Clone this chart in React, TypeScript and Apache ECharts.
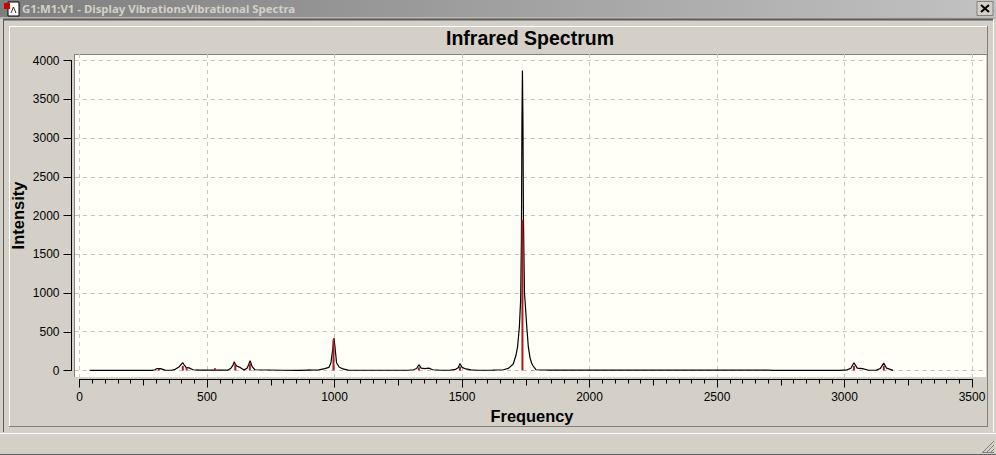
import React, { useEffect, useRef } from "react";
import * as echarts from "echarts";

const WINDOW_TITLE = "G1:M1:V1 - Display VibrationsVibrational Spectra";
const CHART_TITLE = "Infrared Spectrum";
const X_NAME = "Frequency";
const Y_NAME = "Intensity";

const spectrumFreq = [40, 200, 285, 296, 304, 318, 335, 362, 375, 390, 398, 405, 412, 418, 433, 445, 472, 540, 582, 594, 602, 607, 612, 618, 630, 645, 657, 664, 669, 674, 677, 688, 800, 860, 939, 962, 978, 986, 994, 998, 1002, 1008, 1018, 1033, 1053, 1150, 1290, 1310, 1322, 1331, 1340, 1355, 1370, 1385, 1420, 1450, 1475, 1485, 1492, 1500, 1515, 1535, 1560, 1620, 1662, 1682, 1701, 1712, 1718, 1725, 1730, 1733, 1735, 1737, 1739, 1741, 1745, 1747, 1754, 1760, 1767, 1773, 1779, 1790, 1850, 2100, 2700, 2720, 2980, 3010, 3025, 3037, 3050, 3070, 3095, 3125, 3140, 3154, 3165, 3190];
const spectrumIntensity = [1, 1, 2, 10, 25, 25, 5, 3, 15, 45, 75, 100, 65, 40, 30, 10, 5, 4, 5, 30, 70, 113, 75, 55, 40, 8, 30, 80, 127, 80, 50, 10, 3, 1, 8, 25, 40, 100, 300, 420, 300, 100, 45, 20, 5, 3, 3, 10, 25, 75, 30, 25, 30, 10, 3, 3, 15, 35, 90, 40, 20, 8, 3, 5, 10, 28, 84, 200, 307, 565, 910, 1680, 3200, 3870, 3200, 1950, 1000, 910, 565, 307, 160, 97, 58, 10, 6, 4, 4, 2, 2, 8, 30, 100, 30, 25, 3, 5, 25, 95, 30, 2];

const stickFreq = [312, 405, 420, 462, 531, 611, 668, 901, 996, 1331, 1492, 1737, 1777, 1848, 3037, 3154];
const stickIntensity = [20, 60, 40, 12, 30, 80, 90, 15, 400, 40, 50, 1940, 6, 6, 60, 60];

const xMajorTicks = [0, 500, 1000, 1500, 2000, 2500, 3000, 3500];
const yMajorTicks = [0, 500, 1000, 1500, 2000, 2500, 3000, 3500, 4000];

const FONT = "'Liberation Sans', Arial, sans-serif";
const PANEL = "#d4d0c8";
const plainNumber = (v: number) => String(v);

function hLine(x1: number, x2: number, y: number, stroke: string, lineWidth = 1) {
  return { type: "line", silent: true, shape: { x1, y1: y, x2, y2: y }, style: { stroke, lineWidth } };
}
function vLine(x: number, y1: number, y2: number, stroke: string, lineWidth = 1) {
  return { type: "line", silent: true, shape: { x1: x, y1, x2: x, y2 }, style: { stroke, lineWidth } };
}

export default function App() {
  const ref = useRef<HTMLDivElement>(null);
  useEffect(() => {
    document.body.style.margin = "0";
    const chart = echarts.init(ref.current!, undefined, { renderer: "svg" });
    const option: any = {
      animation: false,
      backgroundColor: PANEL,
      textStyle: { fontFamily: FONT },
      title: {
        text: CHART_TITLE,
        left: 525,
        top: 23,
        textAlign: "center",
        textStyle: { fontFamily: FONT, fontSize: 19.5, fontWeight: "bold", color: "#000" },
      },
      grid: [
        { left: 79.5, top: 60.5, width: 892.5, height: 310, outerBoundsMode: "none" },
        { left: 75, top: 54, width: 911, height: 323, show: true, backgroundColor: "#fffff8", borderWidth: 0, outerBoundsMode: "none" },
      ],
      xAxis: [
        {
          type: "value", gridIndex: 0, position: "bottom", offset: 9, min: 0, max: 3500, interval: 500,
          axisLine: { onZero: false, lineStyle: { color: "#000" } },
          axisTick: { length: 8, lineStyle: { color: "#000" } },
          minorTick: { show: true, splitNumber: 10, length: 4, lineStyle: { color: "#000" } },
          axisLabel: { fontFamily: FONT, fontSize: 12, color: "#000", margin: 11, showMaxLabel: true, showMinLabel: true, formatter: plainNumber },
          splitLine: { show: false },
        },
        {
          type: "value", gridIndex: 0, position: "bottom", offset: 9, min: 0, max: 3500, interval: 250,
          axisLine: { onZero: false, show: false },
          axisTick: { show: true, length: 6, lineStyle: { color: "#000" } },
          axisLabel: { show: false },
          splitLine: { show: false },
        },
        {
          type: "value", gridIndex: 1, min: -17.65, max: 3555,
          name: X_NAME, nameLocation: "middle", nameGap: 31,
          nameTextStyle: { fontFamily: FONT, fontSize: 16.4, fontWeight: "bold", color: "#000", padding: [0, 0, 0, 3] },
          axisLine: { show: false },
          axisTick: { show: false, customValues: xMajorTicks },
          axisLabel: { show: false, customValues: xMajorTicks },
          splitLine: { show: true, lineStyle: { color: "#c4c4c0", type: [4, 4], width: 1 } },
        },
      ],
      yAxis: [
        {
          type: "value", gridIndex: 0, position: "left", offset: 8, min: 0, max: 4000, interval: 500,
          name: Y_NAME, nameLocation: "middle", nameGap: 45, nameRotate: 90, nameMoveOverlap: false,
          nameTextStyle: { fontFamily: FONT, fontSize: 16.5, fontWeight: "bold", color: "#000" },
          axisLine: { show: true, onZero: false, lineStyle: { color: "#000" } },
          axisTick: { show: true, length: 8, lineStyle: { color: "#000" } },
          axisLabel: { fontFamily: FONT, fontSize: 12, color: "#000", margin: 12, formatter: plainNumber },
          splitLine: { show: false },
        },
        {
          type: "value", gridIndex: 1, min: -83.9, max: 4083.9,
          axisLine: { show: false },
          axisTick: { show: false, customValues: yMajorTicks },
          axisLabel: { show: false, customValues: yMajorTicks },
          splitLine: { show: true, lineStyle: { color: "#c4c4c0", type: [4, 4], width: 1 } },
        },
      ],
      series: [
        {
          type: "line", xAxisIndex: 0, yAxisIndex: 0, showSymbol: false, symbol: "none", silent: true,
          lineStyle: { color: "#000", width: 1.2 },
          data: spectrumFreq.map((f, i) => [f, spectrumIntensity[i]]),
          z: 2,
        },
        {
          type: "bar", xAxisIndex: 0, yAxisIndex: 0, barWidth: 2, silent: true,
          itemStyle: { color: "#a81c1c" },
          data: stickFreq.map((f, i) => [f, stickIntensity[i]]),
          z: 3,
        },
      ],
      graphic: {
        elements: [
          { type: "rect", silent: true, shape: { x: 0, y: 0, width: 996, height: 17 },
            style: { fill: new echarts.graphic.LinearGradient(0, 0, 1, 0, [
              { offset: 0, color: "#7e7e7e" }, { offset: 1, color: "#c2c2c2" } ]) } },
          { type: "text", x: 22, y: 3, silent: true,
            style: { text: WINDOW_TITLE, fill: "#d4d0c8", font: "bold 11.4px 'Noto Sans', sans-serif" } },
          { type: "rect", silent: true, shape: { x: 8, y: 2, width: 11, height: 14 }, style: { fill: "#fff", stroke: "#000", lineWidth: 1 } },
          { type: "rect", silent: true, shape: { x: 4, y: 3, width: 6, height: 6 }, style: { fill: "#d00000" } },
          { type: "polyline", silent: true, shape: { points: [[11, 13], [13.5, 7], [16, 13]] }, style: { stroke: "#333", fill: "none", lineWidth: 1 } },
          { type: "rect", silent: true, shape: { x: 977, y: 1.5, width: 16, height: 14 }, style: { fill: PANEL, stroke: "#808080", lineWidth: 1 } },
          { type: "polyline", silent: true, shape: { points: [[981, 5], [989, 12]] }, style: { stroke: "#000", fill: "none", lineWidth: 2 } },
          { type: "polyline", silent: true, shape: { points: [[989, 5], [981, 12]] }, style: { stroke: "#000", fill: "none", lineWidth: 2 } },
          hLine(0, 996, 18, "#a0a09c", 1),
          hLine(3, 993, 19.5, "#5c5c58", 2),
          vLine(3.5, 20, 432, "#5c5c58", 1),
          vLine(993.5, 20, 432, "#ffffff", 1),
          hLine(9, 988, 26.5, "#ffffff", 1),
          vLine(9.5, 26, 426, "#ffffff", 1),
          vLine(987.5, 26, 427, "#808080", 1),
          hLine(9, 988, 426.5, "#808080", 1),
          hLine(0, 996, 433.5, "#ffffff", 1),
          hLine(0, 996, 454.5, "#606060", 1),
          hLine(74, 987, 54.5, "#808080", 1),
          vLine(74.5, 54, 377, "#808080", 1),
          hLine(982, 994, 452.5, "#808080", 1),
          { type: "line", silent: true, shape: { x1: 982, y1: 453, x2: 994, y2: 441 }, style: { stroke: "#808080", lineWidth: 1 } },
          { type: "line", silent: true, shape: { x1: 986, y1: 453, x2: 994, y2: 445 }, style: { stroke: "#808080", lineWidth: 1 } },
          { type: "line", silent: true, shape: { x1: 990, y1: 453, x2: 994, y2: 449 }, style: { stroke: "#808080", lineWidth: 1 } },
        ],
      },
    };
    chart.setOption(option);
    return () => chart.dispose();
  }, []);
  return <div ref={ref} style={{ position: "absolute", left: 0, top: 0, width: 996, height: 455 }} />;
}
